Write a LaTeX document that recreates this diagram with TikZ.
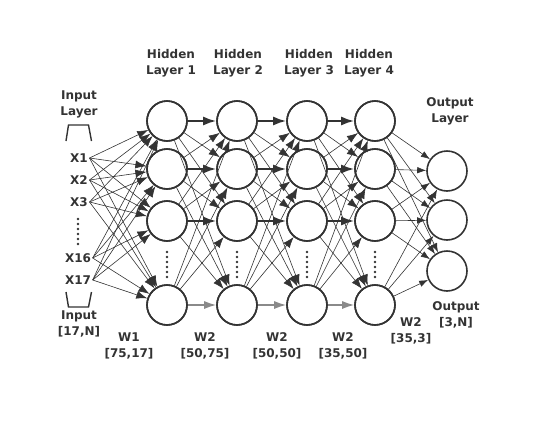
\documentclass[tikz,border=0pt]{standalone}
\usepackage{fontspec}
\setmainfont{DejaVu Sans}
\usetikzlibrary{arrows.meta}
\definecolor{ink}{HTML}{333333}
\definecolor{soft}{HTML}{8A8A8A}
\begin{document}
\begin{tikzpicture}[x=1pt,y=-1pt,
  neuron/.style={circle,draw=ink,line width=1.6pt,minimum size=40pt,inner sep=0pt,fill=white},
  lbl/.style={font=\bfseries\fontsize{12}{16}\selectfont,text=ink,align=center,inner sep=0pt},
  xl/.style={font=\bfseries\fontsize{12}{13}\selectfont,text=ink,inner sep=1.5pt},
  conn/.style={draw=ink,line width=0.6pt,-{Latex[length=11pt,width=8pt]}},
  outconn/.style={draw=ink,line width=0.6pt,-{Latex[length=9pt,width=6.5pt]}},
  straight/.style={draw=ink,line width=2pt,-{Latex[length=13pt,width=9pt]}},
  straightsoft/.style={draw=soft,line width=1.5pt,-{Latex[length=12pt,width=8pt]},},
  bracket/.style={draw=ink,line width=1.4pt},
  vdot/.style={circle,fill=ink,inner sep=0pt,minimum size=2.6pt}
]
\useasboundingbox (0,0) rectangle (550,424);

% hidden layers
\foreach \c/\x in {1/167,2/237,3/307,4/375}{
  \foreach \r/\y in {1/121,2/169,3/221,4/305}{
    \node[neuron] (h\c\r) at (\x,\y) {};
  }
  \foreach \k in {0,...,5} \node[vdot] at (\x,{252+\k*5}) {};
}
% output layer
\foreach \r/\y in {1/171,2/220,3/271}{
  \node[neuron] (o\r) at (447,\y) {};
}

% input labels
\node[xl] (x1) at (79,158) {X1};
\node[xl] (x2) at (79,180) {X2};
\node[xl] (x3) at (79,202) {X3};
\node[xl] (x16) at (78,258) {X16};
\node[xl] (x17) at (78,280) {X17};
\foreach \k in {0,...,5} \node[vdot] at (78,{219+\k*5}) {};

% input connections
\foreach \i in {1,2,3,16,17}{
  \foreach \r in {1,2,3,4}{
    \draw[conn] (x\i.east) -- (h1\r);
  }
}

% hidden-to-hidden connections
\foreach \c/\n in {1/2,2/3,3/4}{
  \foreach \r in {1,2,3,4}{
    \foreach \s in {1,2,3,4}{
      \ifnum\r=\s\else
        \draw[conn] (h\c\r) -- (h\n\s);
      \fi
    }
  }
  \foreach \r in {1,2,3}{
    \draw[straight] (h\c\r) -- (h\n\r);
  }
  \draw[straightsoft] (h\c4) -- (h\n4);
}

% hidden-to-output connections
\foreach \r in {1,2,3,4}{
  \foreach \s in {1,2,3}{
    \draw[outconn] (h4\r) -- (o\s);
  }
}

% redraw circles on top
\foreach \c/\x in {1/167,2/237,3/307,4/375}{
  \foreach \r/\y in {1/121,2/169,3/221,4/305}{
    \draw[ink,line width=1.6pt] (\x,\y) circle (20pt);
  }
}

% brackets
\draw[bracket] (66,141) -- (68.5,125) -- (88.5,125) -- (91.5,141);
\draw[bracket] (66,292) -- (68.5,307) -- (88.5,307) -- (91.5,292);

% labels
\node[lbl] (lin) at (79,104) {Input\\Layer};
\node[lbl] (lhid1) at (171,63) {Hidden\\Layer 1};
\node[lbl] (lhid2) at (238,63) {Hidden\\Layer 2};
\node[lbl] (lhid3) at (309,63) {Hidden\\Layer 3};
\node[lbl] (lhid4) at (369,63) {Hidden\\Layer 4};
\node[lbl] (lout) at (450,111) {Output\\Layer};
\node[lbl] (linp) at (79,324) {Input\\{[17,N]}};
\node[lbl] (loutp) at (456,315) {Output\\{[3,N]}};
\node[lbl] (w1) at (129,346) {W1\\{[75,17]}};
\node[lbl] (w2) at (205,346) {W2\\{[50,75]}};
\node[lbl] (w3) at (277,346) {W2\\{[50,50]}};
\node[lbl] (w4) at (343,346) {W2\\{[35,50]}};
\node[lbl] (w5) at (411,331) {W2\\{[35,3]}};
\end{tikzpicture}
\end{document}
